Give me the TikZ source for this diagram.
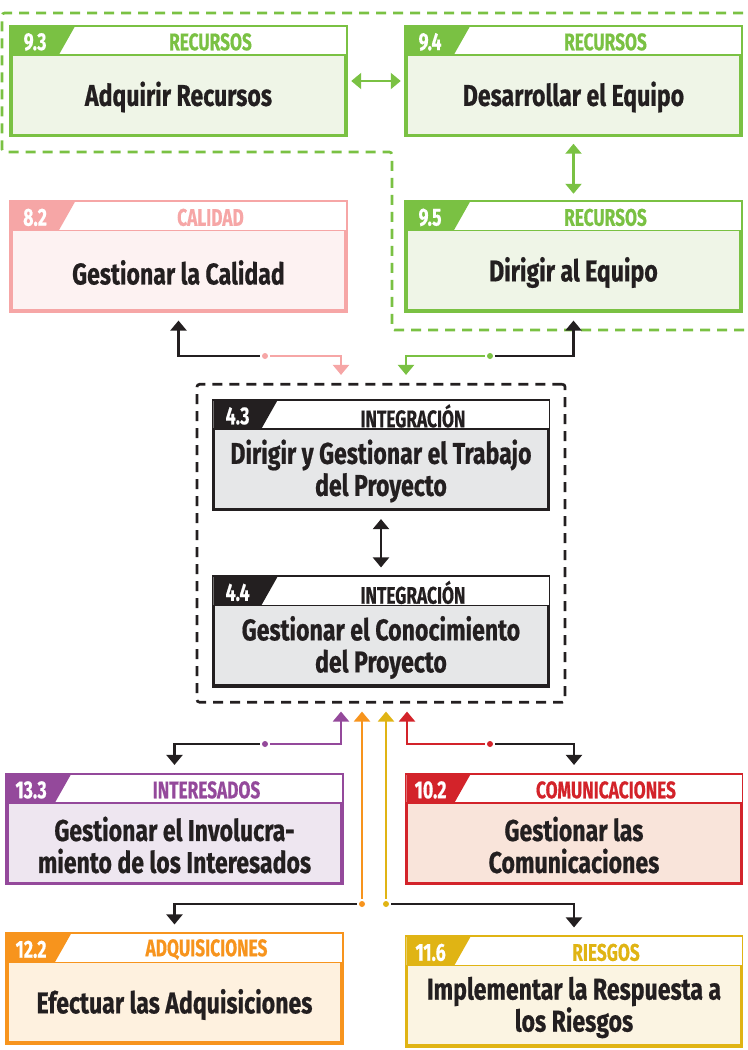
\documentclass[tikz,border=0pt]{standalone}
\usepackage{fontspec}
\setmainfont{Fira Sans}[FakeStretch=0.77, BoldFeatures={FakeBold=0.6}]
\newfontfamily\hdfont{Fira Sans}[FakeStretch=0.72, BoldFeatures={FakeBold=0.4}]
\usetikzlibrary{arrows.meta,calc,fit,positioning}

\definecolor{blk}{RGB}{35,31,32}    \definecolor{blkbg}{RGB}{230,231,232}
\definecolor{grn}{RGB}{122,193,67}  \definecolor{grnbg}{RGB}{239,245,231}
\definecolor{pnk}{RGB}{246,166,166} \definecolor{pnkbg}{RGB}{253,242,242}
\definecolor{pur}{RGB}{148,73,155}  \definecolor{purbg}{RGB}{238,230,240}
\definecolor{rojo}{RGB}{211,35,42}  \definecolor{rojobg}{RGB}{249,228,218}
\definecolor{orn}{RGB}{247,148,29}  \definecolor{ornbg}{RGB}{254,241,223}
\definecolor{yel}{RGB}{224,180,20}  \definecolor{yelbg}{RGB}{251,244,226}

\tikzset{every picture/.style={line width=0.75pt},
  pbox/.style={draw=#1, fill=#1bg, line width=2.6pt, minimum width=251.5pt, minimum height=81.5pt, inner sep=0pt},
  numtxt/.style={text=white, font=\hdfont\bfseries\fontsize{18.5}{20}\selectfont, inner sep=0.75pt},
  areatxt/.style={font=\hdfont\bfseries\fontsize{18}{20}\selectfont, inner sep=0.75pt},
  maintxt/.style={text=blk, font=\bfseries\fontsize{22.5}{24}\selectfont, align=center, inner sep=0.75pt},
  conn/.style={draw=blk, line width=1.6pt, shorten >=6pt, -{Triangle[width=12pt,length=7.5pt]}},
  dconn/.style={line width=1.6pt, {Triangle[width=12pt,length=7.5pt]}-{Triangle[width=12pt,length=7.5pt]}},
  jdot/.style={circle, fill=#1, inner sep=0pt, minimum size=4.5pt, outer sep=1.8pt},
  grpline/.style={dash pattern=on 7.5pt off 5.25pt, line width=2pt},
}

% box: name, centre, colour, number, area, title
\newcommand{\procbox}[6]{%
  \node[pbox=#3] (#1) at (#2) {};
  \fill[white] ($(#1.north west)+(1.7,1.7)$) rectangle ($(#1.north east)+(-1.7,30)$);
  \draw[#3, line width=1pt] ($(#1.north west)+(1.7,30)$) -- ($(#1.north east)+(-1.7,30)$);
  \fill[#3] ($(#1.north west)+(1.7,1.7)$) -- ++(64,0) -- ++(-16,28.3) -- ++(-48,0) -- cycle;
  \node[numtxt] (#1-n) at ($(#1.north west)+(26,17)$) {#4};
  \node[areatxt, text=#3] (#1-a) at ($(#1.north)+(32,17)$) {#5};
  \node[maintxt] (#1-t) at ($(#1.center)+(0,16)$) {#6};
}

\begin{document}
\begin{tikzpicture}[x=0.75pt,y=0.75pt,yscale=-1,xscale=1]
    \useasboundingbox (0,0) rectangle (748,1050);

    % Recursos group
    \draw [grn, grpline, rounded corners=2pt] (760,13) -- (2,13) -- (2,152) -- (392,152) -- (392,330) -- (760,330);

    \procbox{adquirir}{178.5,81}{grn}{9.3}{RECURSOS}{Adquirir Recursos}
    \procbox{desarrollar}{573.5,81}{grn}{9.4}{RECURSOS}{Desarrollar el Equipo}
    \procbox{dirigireq}{573.5,256.5}{grn}{9.5}{RECURSOS}{Dirigir al Equipo}
    \procbox{calidad}{178.5,256.5}{pnk}{8.2}{CALIDAD}{Gestionar la Calidad}

    % Integracion
    \procbox{trabajo}{381,455}{blk}{4.3}{INTEGRACIÓN}{Dirigir y Gestionar el Trabajo\\del Proyecto}
    \procbox{conocimiento}{381,631.5}{blk}{4.4}{INTEGRACIÓN}{Gestionar el Conocimiento\\del Proyecto}
    \node [fit=(trabajo)(conocimiento), draw=blk, grpline, rounded corners=2pt, inner sep=11pt] (integ) {};

    \procbox{involucra}{174.5,829}{pur}{13.3}{INTERESADOS}{Gestionar el Involucra-\\miento de los Interesados}
    \procbox{comunica}{574,829}{rojo}{10.2}{COMUNICACIONES}{Gestionar las\\Comunicaciones}
    \procbox{adquisic}{174.5,988.5}{orn}{12.2}{ADQUISICIONES}{Efectuar las Adquisiciones}
    \procbox{riesgos}{574,991.5}{yel}{11.6}{RIESGOS}{Implementar la Respuesta a\\los Riesgos}

    % double arrows
    \draw [dconn, grn, shorten <=2.5pt, shorten >=2.5pt] (adquirir) -- (desarrollar);
    \draw [dconn, grn, shorten <=5pt, shorten >=5pt] (desarrollar) -- (dirigireq);
    \draw [dconn, blk, shorten <=6pt, shorten >=6pt] (trabajo) -- (conocimiento);

    % junction dots
    \node [jdot=pnk] (qdot) at (265,356) {};
    \node [jdot=grn] (gdot) at (490,356) {};
    \node [jdot=pur] (pdot) at (265,744) {};
    \node [jdot=rojo] (rdot) at (490,744) {};
    \node [jdot=orn] (odot) at (362,904) {};
    \node [jdot=yel] (ydot) at (386,904) {};

    % top connectors
    \draw [conn] (qdot.west) -| (calidad.south);
    \draw [conn, draw=pnk, -{Triangle[width=12pt,length=7.5pt,fill=pnk]}] (qdot.east) -| ($(integ.north)+(-40,0)$);
    \draw [conn, draw=grn, -{Triangle[width=12pt,length=7.5pt,fill=grn]}] (gdot.west) -| ($(integ.north)+(25,0)$);
    \draw [conn] (gdot.east) -| (dirigireq.south);

    % bottom connectors
    \draw [conn, draw=pur, -{Triangle[width=12pt,length=7.5pt,fill=pur]}] (pdot.east) -| ($(integ.south)+(-40,0)$);
    \draw [conn] (pdot.west) -| (involucra.north);
    \draw [conn, draw=rojo, -{Triangle[width=12pt,length=7.5pt,fill=rojo]}] (rdot.west) -| ($(integ.south)+(26,0)$);
    \draw [conn] (rdot.east) -| (comunica.north);
    \draw [conn, draw=orn, -{Triangle[width=12pt,length=7.5pt,fill=orn]}] (odot.north) -- (odot |- integ.south);
    \draw [conn] (odot.west) -| (adquisic.north);
    \draw [conn, draw=yel, -{Triangle[width=12pt,length=7.5pt,fill=yel]}] (ydot.north) -- (ydot |- integ.south);
    \draw [conn] (ydot.east) -| (riesgos.north);

\end{tikzpicture}
\end{document}
